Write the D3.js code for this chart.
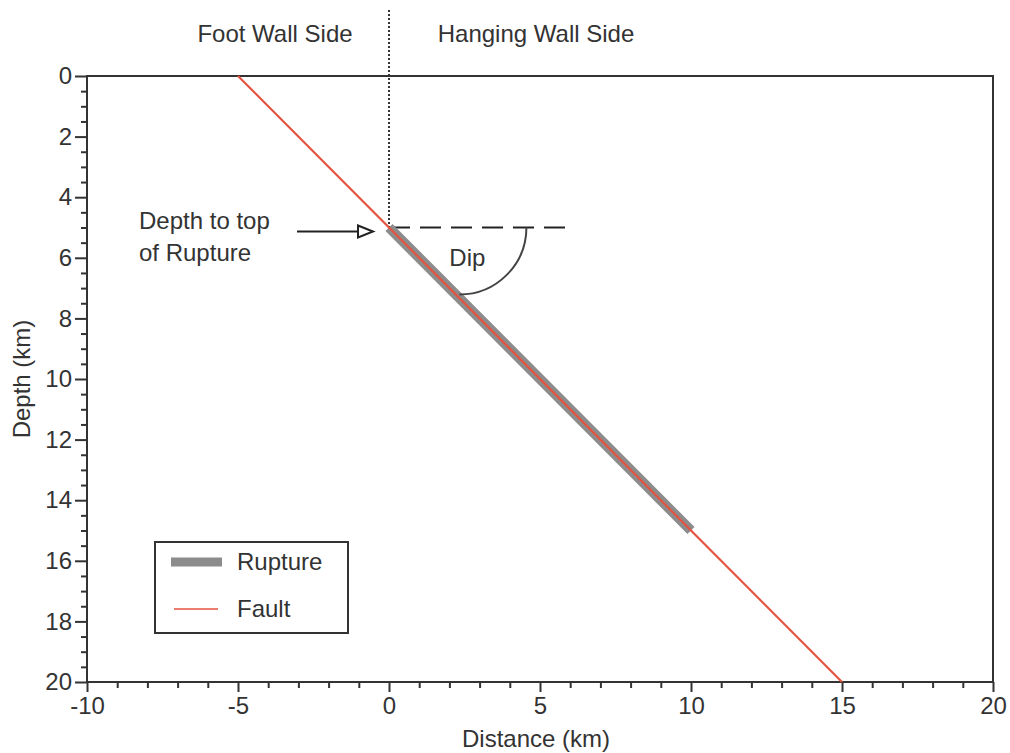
<!DOCTYPE html>
<html>
<head>
<meta charset="utf-8">
<script src="https://cdn.jsdelivr.net/npm/d3@7"></script>
<style>
  html, body { margin: 0; padding: 0; background: #fff; }
  svg { display: block; }
  text { font-family: "Liberation Sans", Arial, Helvetica, sans-serif; fill: #333; }
</style>
</head>
<body>
<svg id="chart" width="1010" height="753"></svg>
<script>
// ---- data ----
const xDomain = [-10, 20];
const yDomain = [0, 20];
const xMajorTicks = [-10, -5, 0, 5, 10, 15, 20];
const yMajorTicks = [0, 2, 4, 6, 8, 10, 12, 14, 16, 18, 20];
const xMinorStep = 1;
const yMinorStep = 0.5;
const faultX = [-5, 15];
const faultDepth = [0, 20];
const ruptureX = [0, 10];
const ruptureDepth = [5, 15];
const depthToTop = 5;
const dashEndX = 6.1;
const dipArcCenterX = 2.33;
const dipArcRadius = 2.22;
const sideLabels = ["Foot Wall Side", "Hanging Wall Side"];
const legendLabels = ["Rupture", "Fault"];

// ---- layout ----
const W = 1010, H = 753;
const m = {left: 87, right: 17, top: 76, bottom: 71};
const FS = 24;
const svg = d3.select("#chart");
const x = d3.scaleLinear().domain(xDomain).range([m.left, W - m.right]);
const y = d3.scaleLinear().domain(yDomain).range([m.top, H - m.bottom]);

const axisColor = "#333";
const faultColor = "#e4533f";
const ruptureColor = "#8c8c8c";
const fmt = d => String(d);

// frame
svg.append("rect")
  .attr("x", x(xDomain[0])).attr("y", y(yDomain[0]))
  .attr("width", x(xDomain[1]) - x(xDomain[0]))
  .attr("height", y(yDomain[1]) - y(yDomain[0]))
  .attr("fill", "none").attr("stroke", axisColor).attr("stroke-width", 2);

// x axis
const xMinor = d3.range(xDomain[0], xDomain[1] + 0.001, xMinorStep).filter(v => !xMajorTicks.includes(v));
const gx = svg.append("g").attr("transform", `translate(0,${y(yDomain[1])})`);
gx.call(d3.axisBottom(x).tickValues(xMinor).tickSize(6).tickFormat(""));
gx.call(g => g.select(".domain").remove());
const gx2 = svg.append("g").attr("transform", `translate(0,${y(yDomain[1])})`);
gx2.call(d3.axisBottom(x).tickValues(xMajorTicks).tickSize(10).tickPadding(5).tickFormat(fmt));
gx2.call(g => g.select(".domain").remove());
gx2.selectAll("text").attr("font-size", FS).attr("font-family", null).style("fill", "#333");

// y axis
const yMinor = d3.range(yDomain[0], yDomain[1] + 0.001, yMinorStep).filter(v => !yMajorTicks.includes(v));
const gy = svg.append("g").attr("transform", `translate(${x(xDomain[0])},0)`);
gy.call(d3.axisLeft(y).tickValues(yMinor).tickSize(6).tickFormat(""));
gy.call(g => g.select(".domain").remove());
const gy2 = svg.append("g").attr("transform", `translate(${x(xDomain[0])},0)`);
gy2.call(d3.axisLeft(y).tickValues(yMajorTicks).tickSize(12).tickPadding(3).tickFormat(fmt));
gy2.call(g => g.select(".domain").remove());
gy2.selectAll("text").attr("font-size", FS).attr("font-family", null).style("fill", "#333");
svg.selectAll("g").attr("font-family", null);
svg.selectAll("g .tick line").attr("stroke", axisColor).attr("stroke-width", 2);

// axis titles
svg.append("text").attr("x", (x(xDomain[0]) + x(xDomain[1])) / 2 - 4).attr("y", 747)
  .attr("text-anchor", "middle").attr("font-size", FS).text("Distance (km)");
svg.append("text")
  .attr("transform", `translate(30,${(y(yDomain[0]) + y(yDomain[1])) / 2}) rotate(-90)`)
  .attr("text-anchor", "middle").attr("font-size", FS).text("Depth (km)");

// dotted vertical line at x=0
svg.append("line").attr("x1", x(0)).attr("x2", x(0)).attr("y1", 10).attr("y2", y(depthToTop))
  .attr("stroke", "#333").attr("stroke-width", 2).attr("stroke-dasharray", "2,2");

// dashed horizontal line
svg.append("line").attr("x1", x(0)).attr("x2", x(dashEndX))
  .attr("y1", y(depthToTop)).attr("y2", y(depthToTop))
  .attr("stroke", "#222").attr("stroke-width", 2).attr("stroke-dasharray", "21,10");

// rupture
const line = d3.line().x(d => x(d[0])).y(d => y(d[1]));
svg.append("path").datum(d3.zip(ruptureX, ruptureDepth)).attr("d", line)
  .attr("fill", "none").attr("stroke", ruptureColor).attr("stroke-width", 10).attr("stroke-linecap", "butt");

// fault
svg.append("path").datum(d3.zip(faultX, faultDepth)).attr("d", line)
  .attr("fill", "none").attr("stroke", faultColor).attr("stroke-width", 2.2);

// dip arc (quarter circle)
const cx = x(dipArcCenterX), cy = y(depthToTop);
const r = x(dipArcCenterX + dipArcRadius) - x(dipArcCenterX);
svg.append("path")
  .attr("d", `M${cx + r},${cy} A${r},${r} 0 0 1 ${cx},${cy + r}`)
  .attr("fill", "none").attr("stroke", "#444").attr("stroke-width", 2);
svg.append("text").attr("x", cx + 8).attr("y", cy + 38).attr("text-anchor", "middle")
  .attr("font-size", FS).text("Dip");

// arrow
const ay = y(depthToTop) + 4;
const tipX = x(0) - 16;
svg.append("line").attr("x1", 297).attr("x2", tipX - 15).attr("y1", ay).attr("y2", ay)
  .attr("stroke", "#222").attr("stroke-width", 2);
svg.append("path").attr("d", `M${tipX - 15},${ay - 6} L${tipX},${ay} L${tipX - 15},${ay + 6} Z`)
  .attr("fill", "#fff").attr("stroke", "#222").attr("stroke-width", 2);
svg.append("text").attr("x", 139).attr("y", 229).attr("font-size", FS).text("Depth to top");
svg.append("text").attr("x", 139).attr("y", 261).attr("font-size", FS).text("of Rupture");

// side labels
svg.append("text").attr("x", 275).attr("y", 42).attr("text-anchor", "middle").attr("font-size", FS).text(sideLabels[0]);
svg.append("text").attr("x", 536).attr("y", 42).attr("text-anchor", "middle").attr("font-size", FS).text(sideLabels[1]);

// legend
const lg = svg.append("g");
lg.append("rect").attr("x", 155).attr("y", 542).attr("width", 193).attr("height", 91)
  .attr("fill", "#fff").attr("stroke", "#333").attr("stroke-width", 2);
lg.append("line").attr("x1", 171).attr("x2", 222).attr("y1", 562).attr("y2", 562)
  .attr("stroke", ruptureColor).attr("stroke-width", 9);
lg.append("line").attr("x1", 174).attr("x2", 218).attr("y1", 609).attr("y2", 609)
  .attr("stroke", faultColor).attr("stroke-width", 1.6);
lg.append("text").attr("x", 237).attr("y", 570).attr("font-size", FS).text(legendLabels[0]);
lg.append("text").attr("x", 237).attr("y", 617).attr("font-size", FS).text(legendLabels[1]);
</script>
</body>
</html>
